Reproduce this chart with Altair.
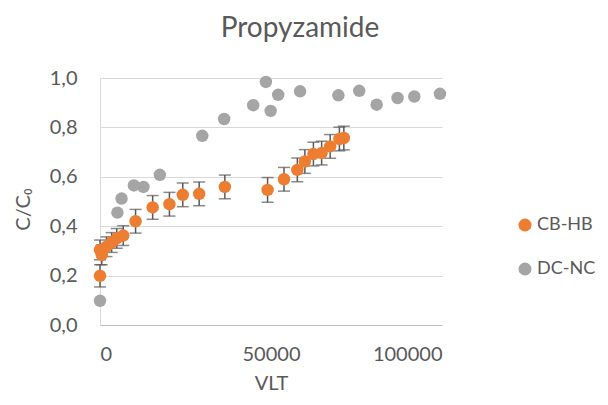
import altair as alt
import pandas as pd

# CB-HB series (with error bars)
cb_x = [0, 0, 500, 1900, 3400, 4900, 6800, 10400, 15400, 20300, 24200, 29000,
        36500, 49000, 53800, 57700, 59900, 62400, 64800, 67300, 70000, 71300]
cb_y = [0.199, 0.304, 0.284, 0.317, 0.334, 0.351, 0.362, 0.420, 0.476, 0.489, 0.527, 0.531,
        0.559, 0.547, 0.590, 0.628, 0.662, 0.692, 0.696, 0.723, 0.753, 0.757]
cb_err = [0.045, 0.040, 0.040, 0.040, 0.040, 0.040, 0.040, 0.048, 0.048, 0.048, 0.048, 0.048,
          0.048, 0.050, 0.048, 0.048, 0.048, 0.048, 0.048, 0.048, 0.048, 0.048]

# DC-NC series
dc_x = [0, 5100, 6300, 9900, 12700, 17500, 29900, 36300, 44800, 48500, 49900, 52100,
        58500, 69700, 75800, 80900, 87000, 91900, 99400]
dc_y = [0.098, 0.455, 0.512, 0.565, 0.559, 0.608, 0.766, 0.834, 0.890, 0.984, 0.867, 0.932,
        0.946, 0.930, 0.948, 0.892, 0.919, 0.925, 0.936]

series_names = ["CB-HB", "DC-NC"]
series_colors = ["#ED7D31", "#A5A5A5"]
y_ticks = [0, 0.2, 0.4, 0.6, 0.8, 1.0]
x_ticks = [0, 50000, 100000]

pts = pd.DataFrame({
    "VLT": cb_x + dc_x,
    "C": cb_y + dc_y,
    "series": ["CB-HB"] * len(cb_x) + ["DC-NC"] * len(dc_x),
})
err = pd.DataFrame({
    "VLT": cb_x,
    "lo": [y - e for y, e in zip(cb_y, cb_err)],
    "hi": [y + e for y, e in zip(cb_y, cb_err)],
})

FONT = "Lato"
TXT = "#595959"

xscale = alt.Scale(domain=[0, 100000], nice=False)
yscale = alt.Scale(domain=[0, 1], nice=False)

xaxis = alt.Axis(values=x_ticks, format="d", title="VLT", grid=False, ticks=False,
                 labelPadding=19, labelFontSize=20, labelColor=TXT, labelFont=FONT,
                 titleFont=FONT, titleFontSize=20, titleColor=TXT, titleFontWeight="normal",
                 titleX=171, titleY=58, titleBaseline="middle", titleAlign="center",
                 domainColor="#BFBFBF", domainWidth=1)
yaxis = alt.Axis(values=y_ticks, title="C/C₀", grid=True, gridColor="#D9D9D9", ticks=False,
                 labelExpr="replace(format(datum.value, '.1f'), '.', ',')",
                 labelPadding=23, labelFontSize=20, labelColor=TXT, labelFont=FONT,
                 titleFont=FONT, titleFontSize=20, titleColor=TXT, titleFontWeight="normal",
                 titleAngle=-90, titleX=-77, titleY=131, titleBaseline="middle",
                 titleAlign="center", domainColor="#D9D9D9", domainWidth=1)

rules = alt.Chart(err).mark_rule(color="#595959", strokeWidth=1.5).encode(
    x=alt.X("VLT:Q", scale=xscale, axis=xaxis),
    y=alt.Y("lo:Q", scale=yscale, axis=yaxis),
    y2="hi:Q",
)
cap_lo = alt.Chart(err).mark_tick(color="#595959", orient="horizontal", size=12,
                                  thickness=1.5).encode(
    x=alt.X("VLT:Q", scale=xscale), y=alt.Y("lo:Q", scale=yscale))
cap_hi = alt.Chart(err).mark_tick(color="#595959", orient="horizontal", size=12,
                                  thickness=1.5).encode(
    x=alt.X("VLT:Q", scale=xscale), y=alt.Y("hi:Q", scale=yscale))

points = alt.Chart(pts).mark_circle(size=155, opacity=1).encode(
    x=alt.X("VLT:Q", scale=xscale),
    y=alt.Y("C:Q", scale=yscale),
    color=alt.Color("series:N",
                    scale=alt.Scale(domain=series_names, range=series_colors),
                    legend=alt.Legend(title=None, orient="none", legendX=416, legendY=138,
                                      symbolType="circle", symbolSize=170,
                                      labelFont=FONT, labelFontSize=18, labelColor=TXT,
                                      rowPadding=26, labelOffset=3, padding=0)),
)

chart = alt.layer(rules, cap_lo, cap_hi, points).properties(
    width=342, height=247,
    autosize=alt.AutoSizeParams(type="none"),
    padding={"left": 92, "top": 70, "right": 158, "bottom": 72},
    title=alt.TitleParams("Propyzamide", font=FONT, fontSize=28, color=TXT,
                          fontWeight="normal", anchor="middle", dx=29, offset=3,
                          baseline="alphabetic"),
).configure_view(stroke=None)

chart.save("out.html", embed_options={"renderer": "svg", "actions": False})
